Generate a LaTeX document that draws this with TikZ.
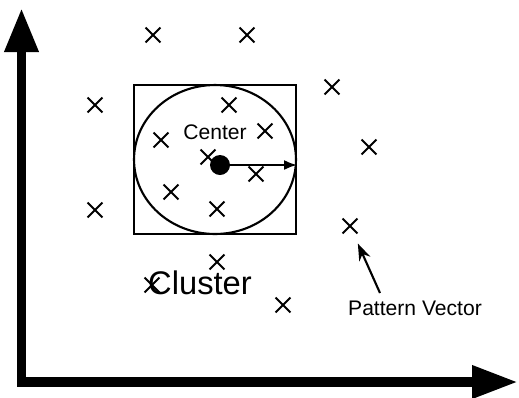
\documentclass[tikz,border=0pt]{standalone}
\usepackage{fontspec}
\setmainfont{Liberation Sans}
\usetikzlibrary{arrows.meta,shapes.geometric,shapes.misc}

\begin{document}
\begin{tikzpicture}[x=0.02cm,y=-0.02cm,
  pat/.style={draw,cross out,line width=1.1pt,minimum size=0.26cm,inner sep=0pt},
  lbl/.style={inner sep=0pt,font=\fontsize{12}{14}\selectfont}]
  \useasboundingbox (0,0) rectangle (519,397);
  % axes
  \coordinate (ytip) at (21.5,8);
  \coordinate (orig) at (21.5,382);
  \coordinate (xtip) at (518,382);
  \draw[line width=5.5pt,line join=miter,{Triangle[length=0.88cm,width=0.64cm]}-{Triangle[length=0.92cm,width=0.62cm]}] (ytip) -- (orig) -- (xtip);
  % cluster region
  \node[draw,line width=1.2pt,minimum width=3.24cm,minimum height=2.98cm,inner sep=0pt] (box) at (215,159.5) {};
  \node[draw,ellipse,line width=1.2pt,minimum width=3.24cm,minimum height=2.98cm,inner sep=0pt] (ring) at (215,159.5) {};
  % pattern vectors
  \foreach \x/\y [count=\i] in {153/35,247/35,95/105,332/87,369/147,95/210,229/105,265/131,161/140,208/157,256/174,171/192,217/209,217/262,152/285,283/305}
    \node[pat] (x\i) at (\x,\y) {};
  \node[pat] (pv) at (350,226) {};
  \node[circle,fill,minimum size=0.4cm,inner sep=0pt] (ctr) at (220,165) {};
  \draw[line width=1.2pt,-{Latex[length=0.26cm,width=0.2cm]}] (ctr) -- (ctr -| ring.east);
  \node[lbl] (ctrlbl) at (215,132) {Center};
  \node[inner sep=0pt,font=\fontsize{18.6}{22}\selectfont] (clus) at (200,283) {Cluster};
  \node[lbl] (pvlbl) at (415,308) {Pattern Vector};
  \coordinate (tail) at (380,293);
  \draw[line width=1.2pt,-{Stealth[length=0.34cm,width=0.24cm]},shorten >=0.22cm] (tail) -- (pv);
\end{tikzpicture}
\end{document}
